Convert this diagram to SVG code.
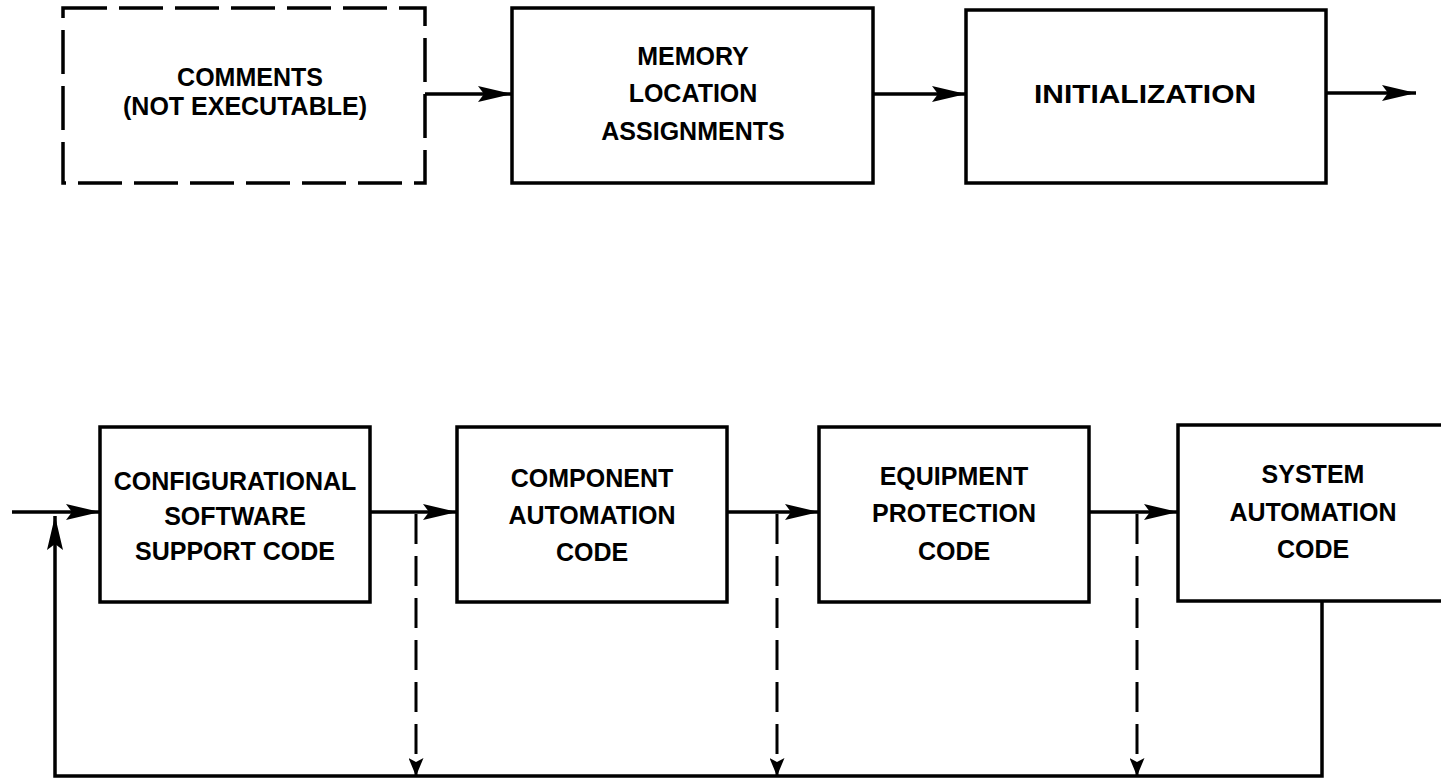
<svg xmlns="http://www.w3.org/2000/svg" width="1441" height="781" viewBox="0 0 1441 781">
<style>
.box{fill:none;stroke:#000;stroke-width:3.5}
.dbox{fill:none;stroke:#000;stroke-width:3.5;stroke-dasharray:44 12}
.ln{fill:none;stroke:#000;stroke-width:3.5}
.dl{fill:none;stroke:#000;stroke-width:3;stroke-dasharray:30 12}
text{font-family:"Liberation Sans",Arial,sans-serif;font-weight:bold;font-size:25px;text-anchor:middle;fill:#000}
</style>
<defs>
<marker id="ah" markerUnits="userSpaceOnUse" viewBox="0 0 34 16" refX="34" refY="8" markerWidth="34" markerHeight="16" orient="auto">
<path d="M0,0 L34,8 L0,16 L6,8 z" fill="#000"/>
</marker>
<marker id="ahs" markerUnits="userSpaceOnUse" viewBox="0 0 18 15" refX="18" refY="7.5" markerWidth="18" markerHeight="15" orient="auto">
<path d="M0,0 L18,7.5 L0,15 L4,7.5 z" fill="#000"/>
</marker>
</defs>
<g id="connectors">
<line class="ln" x1="425" y1="94" x2="512" y2="94" marker-end="url(#ah)"/>
<line class="ln" x1="873" y1="94" x2="966" y2="94" marker-end="url(#ah)"/>
<line class="ln" x1="1326" y1="93" x2="1416" y2="93" marker-end="url(#ah)"/>
<line class="ln" x1="12" y1="512" x2="100" y2="512" marker-end="url(#ah)"/>
<line class="ln" x1="370" y1="512" x2="457" y2="512" marker-end="url(#ah)"/>
<line class="ln" x1="727" y1="512" x2="819" y2="512" marker-end="url(#ah)"/>
<line class="ln" x1="1089" y1="512" x2="1178" y2="512" marker-end="url(#ah)"/>
<line class="dl" x1="416" y1="514" x2="416" y2="776" marker-end="url(#ahs)"/>
<line class="dl" x1="777" y1="514" x2="777" y2="776" marker-end="url(#ahs)"/>
<line class="dl" x1="1137" y1="514" x2="1137" y2="776" marker-end="url(#ahs)"/>
<path class="ln" d="M1322,602 V776 H55 V516" marker-end="url(#ah)"/>
</g>
<g id="comments">
<rect class="dbox" x="63" y="8" width="362" height="175"/>
<text x="250" y="86">COMMENTS</text>
<text x="245" y="115">(NOT EXECUTABLE)</text>
</g>
<g id="memory">
<rect class="box" x="512" y="8" width="361" height="175"/>
<text x="693" y="65">MEMORY</text>
<text x="693" y="102">LOCATION</text>
<text x="693" y="140">ASSIGNMENTS</text>
</g>
<g id="initialization">
<rect class="box" x="966" y="10" width="360" height="173"/>
<text x="1145" y="103" textLength="222" lengthAdjust="spacingAndGlyphs">INITIALIZATION</text>
</g>
<g id="configurational">
<rect class="box" x="100" y="427" width="270" height="175"/>
<text x="235" y="490">CONFIGURATIONAL</text>
<text x="235" y="525">SOFTWARE</text>
<text x="235" y="560">SUPPORT CODE</text>
</g>
<g id="component">
<rect class="box" x="457" y="427" width="270" height="175"/>
<text x="592" y="487">COMPONENT</text>
<text x="592" y="524">AUTOMATION</text>
<text x="592" y="561">CODE</text>
</g>
<g id="equipment">
<rect class="box" x="819" y="427" width="270" height="175"/>
<text x="954" y="485">EQUIPMENT</text>
<text x="954" y="522">PROTECTION</text>
<text x="954" y="560">CODE</text>
</g>
<g id="system">
<rect class="box" x="1178" y="425" width="274" height="176"/>
<text x="1313" y="483">SYSTEM</text>
<text x="1313" y="521">AUTOMATION</text>
<text x="1313" y="558">CODE</text>
</g>
</svg>
